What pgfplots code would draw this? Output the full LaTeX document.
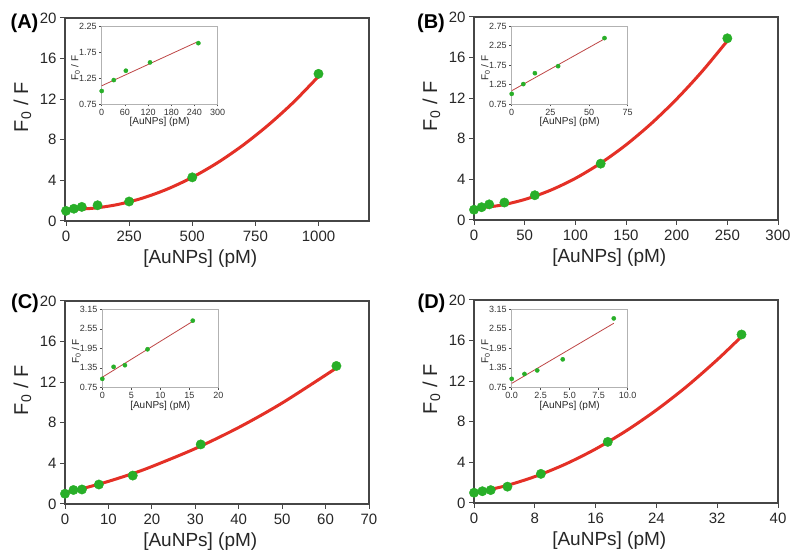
\documentclass[border=0pt]{standalone}
\usepackage{pgfplots}
\pgfplotsset{compat=1.18}
\usepackage{fontspec}
\setmainfont{Liberation Sans}
\definecolor{ptgreen}{RGB}{40,175,40}
\definecolor{fitred}{RGB}{228,48,38}
\definecolor{insred}{RGB}{190,70,70}
\definecolor{axgray}{RGB}{70,70,70}
\pgfplotsset{
  mainax/.style={
    scale only axis, width=304pt, height=203pt, anchor=south west, clip=false,
    axis line style={draw=axgray, line width=1.1pt},
    tick style={draw=axgray, line width=1pt},
    tick align=outside, tick pos=left, major tick length=5pt,
    ymin=0, ymax=20, ytick={0,4,8,12,16,20},
    /pgf/number format/assume math mode=true,
    /pgf/number format/1000 sep={},
    ticklabel style={font=\fontsize{15}{17}\selectfont, text=black!85},
    xticklabel style={yshift=-1pt},
    xlabel={[AuNPs] (pM)}, ylabel={F\textsubscript{0} / F},
    xlabel style={font=\fontsize{19}{21}\selectfont, text=black!85, at={(axis description cs:0.445,-0.185)}, anchor=center},
    ylabel style={font=\fontsize{20}{22}\selectfont, text=black!85, at={(axis description cs:-0.14,0.56)}, anchor=center},
  },
  insax/.style={
    scale only axis, width=116pt, height=78pt, anchor=south west, clip=false,
    axis background/.style={fill=white},
    axis line style={draw=black!30, line width=0.6pt},
    tick style={draw=black!70, line width=0.5pt},
    tick align=outside, tick pos=left, major tick length=2.5pt,
    /pgf/number format/assume math mode=true,
    ticklabel style={font=\fontsize{9}{10}\selectfont, text=black!80},
    xticklabel style={yshift=1pt},
    yticklabel style={xshift=1pt},
    xlabel={[AuNPs] (pM)}, ylabel={F\textsubscript{0} / F},
    xlabel style={font=\fontsize{10}{11}\selectfont, text=black!85, at={(axis description cs:0.5,-0.235)}, anchor=center},
    ylabel style={font=\fontsize{10}{11}\selectfont, text=black!85, at={(axis description cs:-0.225,0.46)}, anchor=center},
  },
  bigpt/.style={only marks, mark=*, mark size=4.7pt, ptgreen, mark options={draw=ptgreen, fill=ptgreen}},
  fitln/.style={no marks, smooth, fitred, line width=3pt},
  smallpt/.style={only marks, mark=*, mark size=2.1pt, ptgreen, mark options={draw=ptgreen, fill=ptgreen}},
  insln/.style={no marks, insred, line width=0.8pt},
}
\begin{document}
\begin{tikzpicture}
\useasboundingbox (0pt,0pt) rectangle (800pt,559pt);

% ---------------- (A)
\begin{axis}[mainax, at={(65pt,338pt)}, xmin=-4, xmax=1200, xtick={0,250,500,750,1000}]
\addplot[bigpt] coordinates {(0,1.0) (31.25,1.21) (62.5,1.39) (125,1.55) (250,1.92) (500,4.3) (1000,14.5)};
\addplot[fitln] coordinates {(0,1.15) (100,1.24) (200,1.60) (300,2.23) (400,3.13) (500,4.30) (600,5.74) (700,7.45) (800,9.43) (900,11.68) (1000,14.25)};
\end{axis}
\begin{axis}[insax, at={(101.7pt,455pt)}, xmin=0, xmax=300, xtick={0,60,120,180,240,300},
  ymin=0.75, ymax=2.25, ytick={0.75,1.25,1.75,2.25},
  yticklabel style={/pgf/number format/.cd, fixed, fixed zerofill, precision=2}]
\addplot[insln] coordinates {(0,1.10) (246,1.94)};
\addplot[smallpt] coordinates {(0,1.0) (31.25,1.21) (62.5,1.39) (125,1.55) (250,1.92)};
\end{axis}
\node[font=\bfseries\fontsize{20}{22}\selectfont] at (24.5pt,536pt) {(A)};

% ---------------- (B)
\begin{axis}[mainax, at={(474pt,339pt)}, xmin=0, xmax=300, xtick={0,50,100,150,200,250,300}]
\addplot[bigpt] coordinates {(0,1.01) (7.5,1.26) (15,1.54) (30,1.72) (60,2.44) (125,5.55) (250,17.9)};
\addplot[fitln] coordinates {(0,1.15) (25,1.43) (50,2.02) (75,2.91) (100,4.10) (125,5.60) (150,7.40) (175,9.51) (200,11.92) (225,14.63) (250,17.65)};
\end{axis}
\begin{axis}[insax, at={(511.7pt,455pt)}, xmin=0, xmax=75, xtick={0,25,50,75},
  ymin=0.75, ymax=2.75, ytick={0.75,1.25,1.75,2.25,2.75},
  yticklabel style={/pgf/number format/.cd, fixed, fixed zerofill, precision=2}]
\addplot[insln] coordinates {(0,1.09) (60,2.42)};
\addplot[smallpt] coordinates {(0,1.01) (7.5,1.26) (15,1.54) (30,1.72) (60,2.44)};
\end{axis}
\node[font=\bfseries\fontsize{20}{22}\selectfont] at (431pt,536pt) {(B)};

% ---------------- (C)
\begin{axis}[mainax, at={(65pt,55pt)}, xmin=0, xmax=70, xtick={0,10,20,30,40,50,60,70}]
\addplot[bigpt] coordinates {(0,1.01) (1.95,1.38) (3.9,1.43) (7.8,1.92) (15.6,2.80) (31.25,5.87) (62.5,13.6)};
\addplot[fitln] coordinates {(0,1.10) (5,1.63) (10,2.23) (15.6,3.00) (20,3.69) (30,5.46) (40,7.54) (50,9.95) (62.5,13.40)};
\end{axis}
\begin{axis}[insax, at={(102.3pt,171.7pt)}, xmin=0, xmax=20, xtick={0,5,10,15,20},
  ymin=0.75, ymax=3.15, ytick={0.75,1.35,1.95,2.55,3.15},
  yticklabel style={/pgf/number format/.cd, fixed, fixed zerofill, precision=2}]
\addplot[insln] coordinates {(0,1.06) (15.6,2.78)};
\addplot[smallpt] coordinates {(0,1.01) (1.95,1.38) (3.9,1.43) (7.8,1.92) (15.6,2.80)};
\end{axis}
\node[font=\bfseries\fontsize{20}{22}\selectfont] at (25pt,256pt) {(C)};

% ---------------- (D)
\begin{axis}[mainax, at={(474pt,56pt)}, xmin=0, xmax=40, xtick={0,8,16,24,32,40}]
\addplot[bigpt] coordinates {(0,1.01) (1.1,1.16) (2.2,1.27) (4.4,1.61) (8.8,2.87) (17.6,6.02) (35.2,16.6)};
\addplot[fitln] coordinates {(0,1.00) (4,1.66) (8,2.60) (12,3.82) (16,5.32) (20,7.10) (24,9.16) (28,11.49) (32,14.11) (35.2,16.40)};
\end{axis}
\begin{axis}[insax, at={(511.7pt,171.7pt)}, xmin=0, xmax=10, xtick={0,2.5,5,7.5,10},
  ymin=0.75, ymax=3.15, ytick={0.75,1.35,1.95,2.55,3.15},
  xticklabel style={/pgf/number format/.cd, fixed, fixed zerofill, precision=1},
  yticklabel style={/pgf/number format/.cd, fixed, fixed zerofill, precision=2}]
\addplot[insln] coordinates {(0,0.87) (8.8,2.72)};
\addplot[smallpt] coordinates {(0,1.01) (1.1,1.16) (2.2,1.27) (4.4,1.61) (8.8,2.87)};
\end{axis}
\node[font=\bfseries\fontsize{20}{22}\selectfont] at (431.5pt,255.5pt) {(D)};
\end{tikzpicture}
\end{document}
